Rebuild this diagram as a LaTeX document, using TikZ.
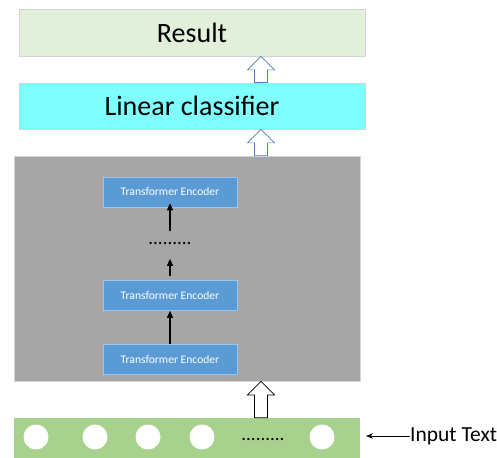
\documentclass[tikz,border=0pt]{standalone}
\usepackage{fontspec}
\setmainfont{Carlito}
\usetikzlibrary{arrows.meta,calc}
\definecolor{resfill}{HTML}{E2EFDA}
\definecolor{linfill}{HTML}{80FFFF}
\definecolor{grayfill}{HTML}{A6A6A6}
\definecolor{encfill}{HTML}{5B9BD5}
\definecolor{inpfill}{HTML}{A9D18E}
\definecolor{boxline}{HTML}{D4D4D4}
\definecolor{arrblue}{HTML}{4F7DB5}
\tikzset{
  bigbox/.style={draw=boxline,line width=0.8pt,minimum width=346,minimum height=46,inner sep=0pt},
  encbox/.style={draw=encfill!60!white,fill=encfill,line width=0.6pt,minimum width=134,minimum height=30,inner sep=0pt,text=white,font=\fontsize{11.6}{13}\selectfont},
  token/.style={circle,fill=white,minimum size=25,inner sep=0pt},
  thinarrow/.style={-{Triangle[length=7pt,width=6pt]},line width=1.1pt},
  hollow/.style={line width=0.7pt,fill=white},
}
% hollow block arrow: #1 style, #2 bottom point, #3 top point
\newcommand\blockarrow[3]{%
  \draw[hollow,#1] let \p1=#2, \p2=#3 in
    (\x1-6.5,\y1) -- (\x1-6.5,\y2-13.5) -- (\x1-13.5,\y2-13.5) -- (\x1,\y2) --
    (\x1+13.5,\y2-13.5) -- (\x1+6.5,\y2-13.5) -- (\x1+6.5,\y1) -- cycle;}
\begin{document}
\begin{tikzpicture}[x=1pt,y=-1pt]
\useasboundingbox (0,0) rectangle (497,457);
% top boxes
\node[bigbox,fill=resfill,minimum height=47,font=\fontsize{28}{32}\selectfont] (res) at (192,32.5) {Result};
\node[bigbox,fill=linfill,font=\fontsize{28}{32}\selectfont] (lin) at (192,106) {Linear classifier};
% gray encoder container
\node[draw=boxline,fill=grayfill,line width=0.8pt,minimum width=346,minimum height=225,inner sep=0pt] (enc) at (187,268.5) {};
\node[encbox] (e3) at (170,192) {Transformer Encoder};
\node[encbox] (e2) at (170,295.5) {Transformer Encoder};
\node[encbox] (e1) at (170,359.5) {Transformer Encoder};
\node[inner sep=0pt,font=\fontsize{19}{19}\selectfont] (edots) at (170,243.5) {.........};
\draw[thinarrow] ($(edots.north)+(0,-11)$) -- ($(e3.south)+(0,-4)$);
\draw[thinarrow] (e2.north) ++(0,-4) -- ($(edots.south)+(0,14)$);
\draw[thinarrow] (e1.north) -- (e2.south);
% input bar
\node[draw=none,fill=inpfill,minimum width=346,minimum height=40,inner sep=0pt] (inp) at (187,438) {};
\node[token] (t1) at (36,437) {};
\node[token] (t2) at (95,437) {};
\node[token] (t3) at (148,437) {};
\node[token] (t4) at (202,437) {};
\node[inner sep=0pt,font=\fontsize{19}{19}\selectfont] (idots) at (263,439.5) {.........};
\node[token] (t5) at (322,437) {};
\node[anchor=west,inner sep=0pt,font=\fontsize{21.5}{24}\selectfont] (itext) at (410,436) {Input Text};
\draw[-{Stealth[length=7pt,width=5.5pt]},line width=0.8pt] (itext.west) -- (366,436);
% hollow block arrows
\coordinate (ax) at (261,0);
\blockarrow{draw=arrblue}{(lin.north -| ax)}{(res.south -| ax)}
\blockarrow{draw=arrblue}{(enc.north -| ax)}{(lin.south -| ax)}
\blockarrow{draw=black}{(inp.north -| ax)}{(enc.south -| ax)}
\end{tikzpicture}
\end{document}
